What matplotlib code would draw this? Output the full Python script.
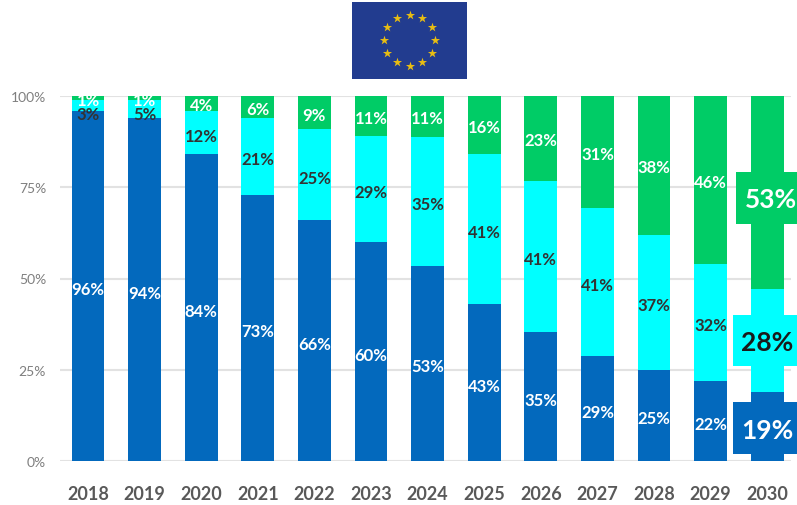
import numpy as np
import matplotlib as mpl
import matplotlib.pyplot as plt
from matplotlib.patches import Rectangle

years = ['2018', '2019', '2020', '2021', '2022', '2023', '2024', '2025', '2026', '2027', '2028', '2029', '2030']
blue_vals = [96, 94, 84, 73, 66, 60, 53, 43, 35, 29, 25, 22, 19]
cyan_vals = [3, 5, 12, 21, 25, 29, 35, 41, 41, 41, 37, 32, 28]
green_vals = [1, 1, 4, 6, 9, 11, 11, 16, 23, 31, 38, 46, 53]
y_ticks = [0, 25, 50, 75, 100]

blue = '#0369bd'
cyan = '#00ffff'
green = '#00cc66'
dark = '#333333'

W, H = 797, 506
plt.rcParams['font.family'] = ['Lato', 'DejaVu Sans']

fig = plt.figure(figsize=(W / 100, H / 100), dpi=100)

# todo en pixeles de la imagen
def px_rect(x0, y0, x1, y1):
    return [x0 / W, 1 - y1 / H, (x1 - x0) / W, (y1 - y0) / H]

ax = fig.add_axes(px_rect(60, 97, 791, 462))

x = np.arange(len(years))
b = np.array(blue_vals, dtype=float)
c = np.array(cyan_vals, dtype=float)
g = np.array(green_vals, dtype=float)
tot = b + c + g
b_pct = b / tot * 100
c_pct = c / tot * 100
g_pct = g / tot * 100

bar_w = 0.58
ax.bar(x, b_pct, bar_w, color=blue, zorder=2)
ax.bar(x, c_pct, bar_w, bottom=b_pct, color=cyan, zorder=2)
ax.bar(x, g_pct, bar_w, bottom=b_pct + c_pct, color=green, zorder=2)

ax.set_xlim(-0.495, 12.42)
ax.set_ylim(0, 100)
ax.set_yticks(y_ticks)
ax.set_yticklabels([str(t) + '%' for t in y_ticks], fontsize=10, color='#7f7f7f')
ax.set_xticks(x)
ax.set_xticklabels(years, fontsize=13, fontweight='bold', color='#595959')
ax.tick_params(length=0)
ax.tick_params(axis='x', pad=17)
ax.tick_params(axis='y', pad=10)
ax.grid(axis='y', color='#e2e2e2', lw=1.5, zorder=0)
for s in ax.spines.values():
    s.set_visible(False)

def label(xv, yv, val, col, z=4, dy=-2.2):
    ax.annotate('%d%%' % val, (xv, yv), xytext=(0, dy), textcoords='offset points', color=col,
                ha='center', va='center', fontsize=12, fontweight='bold', zorder=z)

# etiquetas de cada segmento, 2030 va aparte con recuadro
for i in range(len(years) - 1):
    label(x[i], b_pct[i] / 2, blue_vals[i], 'white')
    y_c = b_pct[i] + c_pct[i] / 2
    if i == 0:
        y_c = 96
    if i == 1:
        y_c = 96
    label(x[i], y_c, cyan_vals[i], dark)
    y_g = b_pct[i] + c_pct[i] + g_pct[i] / 2
    label(x[i], y_g, green_vals[i], 'white', z=5, dy=-1.5)

# recuadros grandes de 2030
boxes = [(736, 173, 797, 225, green, 'white', green_vals[-1], 771, 200),
         (733, 316, 797, 367, cyan, '#1a1a1a', cyan_vals[-1], 767, 343),
         (733, 403, 797, 455, blue, 'white', blue_vals[-1], 767, 431)]
for x0, y0, x1, y1, col, tcol, val, tx, ty in boxes:
    l, bt, w, h = px_rect(x0, y0, x1, y1)
    fig.add_artist(Rectangle((l, bt), w, h, transform=fig.transFigure, color=col, lw=0, zorder=6))
    fig.text(tx / W, 1 - ty / H, '%d%%' % val, color=tcol, ha='center', va='center',
             fontsize=19, fontweight='bold', zorder=7)

# bandera de la UE
flag = fig.add_axes(px_rect(352, 3, 467, 80))
flag.set_facecolor('#223c8f')
flag.set_xlim(352, 467)
flag.set_ylim(80, 3)
flag.set_xticks([])
flag.set_yticks([])
for s in flag.spines.values():
    s.set_visible(False)
ang = np.deg2rad(np.arange(0, 360, 30))
flag.scatter(409.5 + 25.5 * np.sin(ang), 41 - 25.5 * np.cos(ang), marker='*', s=48, color='#e8bd12', lw=0)

fig.savefig('out.png', dpi=100)
